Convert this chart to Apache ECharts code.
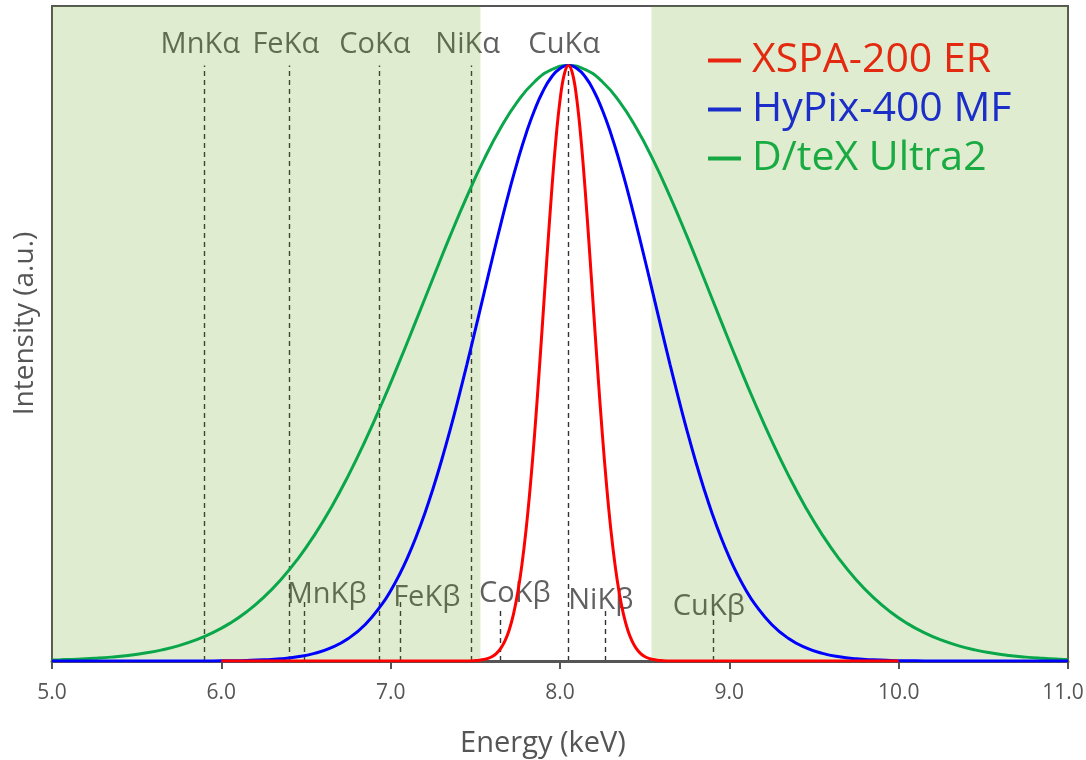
<!DOCTYPE html>
<html>
<head>
<meta charset="utf-8">
<script src="https://cdn.jsdelivr.net/npm/echarts@6/dist/echarts.min.js"></script>
<style>
html,body{margin:0;padding:0;background:#fff;}
#chart{width:1086px;height:760px;}
</style>
</head>
<body>
<div id="chart"></div>
<script>
// ---- data ----
const dtexEnergy = [5.0, 5.05, 5.15, 5.25, 5.35, 5.45, 5.55, 5.65, 5.75, 5.85, 5.95, 6.05, 6.15, 6.25, 6.35, 6.45, 6.55, 6.65, 6.75, 6.85, 6.95, 7.05, 7.15, 7.25, 7.35, 7.45, 7.55, 7.65, 7.75, 7.85, 7.95, 8.05, 8.15, 8.25, 8.35, 8.45, 8.55, 8.65, 8.75, 8.85, 8.95, 9.05, 9.15, 9.25, 9.35, 9.45, 9.55, 9.65, 9.75, 9.85, 9.95, 10.05, 10.15, 10.25, 10.35, 10.45, 10.55, 10.65, 10.75, 10.85, 10.95, 11.0];
const dtexIntensity = [0.0016, 0.0020, 0.0030, 0.0045, 0.0065, 0.0094, 0.0134, 0.0187, 0.0259, 0.0354, 0.0476, 0.0632, 0.0827, 0.1068, 0.1360, 0.1708, 0.2115, 0.2584, 0.3114, 0.3700, 0.4337, 0.5014, 0.5716, 0.6428, 0.7130, 0.7799, 0.8415, 0.8954, 0.9398, 0.9728, 0.9931, 1.0, 0.9931, 0.9728, 0.9398, 0.8954, 0.8415, 0.7799, 0.7130, 0.6428, 0.5716, 0.5014, 0.4337, 0.3700, 0.3114, 0.2584, 0.2115, 0.1708, 0.1360, 0.1068, 0.0827, 0.0632, 0.0476, 0.0354, 0.0259, 0.0187, 0.0134, 0.0094, 0.0065, 0.0045, 0.0030, 0.0025];
const hypixEnergy = [5.0, 5.05, 5.15, 5.25, 5.35, 5.45, 5.55, 5.65, 5.75, 5.85, 5.95, 6.05, 6.15, 6.25, 6.35, 6.45, 6.55, 6.65, 6.75, 6.85, 6.95,
  7.0, 7.05, 7.1, 7.15, 7.2, 7.25, 7.3, 7.35, 7.4, 7.45, 7.5, 7.55, 7.6, 7.65, 7.7, 7.75, 7.8, 7.85, 7.9, 7.95, 8.0, 8.05,
  8.1, 8.15, 8.2, 8.25, 8.3, 8.35, 8.4, 8.45, 8.5, 8.55, 8.6, 8.65, 8.7, 8.75, 8.8, 8.85, 8.9, 8.95, 9.0, 9.05, 9.1,
  9.15, 9.25, 9.35, 9.45, 9.55, 9.65, 9.75, 9.85, 9.95, 10.05, 10.15, 10.25, 10.35, 10.45, 10.55, 10.65, 10.75, 10.85, 10.95, 11.0];
const hypixIntensity = [0, 0, 0, 0, 0, 0, 0, 0, 0, 0.0001, 0.0002, 0.0004, 0.0009, 0.0019, 0.0037, 0.0070, 0.0128, 0.0224, 0.0378, 0.0614, 0.0959,
  0.1181, 0.1441, 0.1740, 0.2082, 0.2466, 0.2894, 0.3363, 0.3870, 0.4411, 0.4978, 0.5565, 0.6161, 0.6755, 0.7334, 0.7887, 0.8400, 0.8860, 0.9254, 0.9573, 0.9808, 0.9952, 1.0,
  0.9952, 0.9808, 0.9573, 0.9254, 0.8860, 0.8400, 0.7887, 0.7334, 0.6755, 0.6161, 0.5565, 0.4978, 0.4411, 0.3870, 0.3363, 0.2894, 0.2466, 0.2082, 0.1740, 0.1441, 0.1181,
  0.0959, 0.0614, 0.0378, 0.0224, 0.0128, 0.0070, 0.0037, 0.0019, 0.0009, 0.0004, 0.0002, 0.0001, 0, 0, 0, 0, 0, 0, 0, 0];
const xspaEnergy = [6.0, 7.45, 7.5, 7.525, 7.55, 7.575, 7.6, 7.625, 7.65, 7.675, 7.7, 7.725, 7.75, 7.775, 7.8, 7.825, 7.85, 7.875, 7.9, 7.925, 7.95, 7.975, 8.0, 8.025, 8.05, 8.075, 8.1, 8.125, 8.15, 8.175, 8.2, 8.225, 8.25, 8.275, 8.3, 8.325, 8.35, 8.375, 8.4, 8.425, 8.45, 8.475, 8.5, 8.525, 8.55, 8.575, 8.6, 8.65, 10.0];
const xspaIntensity = [0, 0.0002, 0.0007, 0.0013, 0.0024, 0.0043, 0.0076, 0.0128, 0.0211, 0.0337, 0.0521, 0.0783, 0.1142, 0.1615, 0.2216, 0.2950, 0.3812, 0.4779, 0.5813, 0.6861, 0.7857, 0.8732, 0.9415, 0.9850, 1.0, 0.9850, 0.9415, 0.8732, 0.7857, 0.6861, 0.5813, 0.4779, 0.3812, 0.2950, 0.2216, 0.1615, 0.1142, 0.0783, 0.0521, 0.0337, 0.0211, 0.0128, 0.0076, 0.0043, 0.0024, 0.0013, 0.0007, 0.0002, 0];
const seriesNames = ['XSPA-200 ER', 'HyPix-400 MF', 'D/teX Ultra2'];
const xTicks = [5, 6, 7, 8, 9, 10, 11];
const kAlphaNames = ['MnKα', 'FeKα', 'CoKα', 'NiKα', 'CuKα'];
const kAlphaEnergy = [5.899, 6.404, 6.930, 7.478, 8.048];
const kAlphaTop = [1.0, 1.0, 1.0, 1.0, 1.0];
const kBetaNames = ['MnKβ', 'FeKβ', 'CoKβ', 'NiKβ', 'CuKβ'];
const kBetaEnergy = [6.490, 7.058, 7.649, 8.265, 8.905];
const kBetaTop = [0.10, 0.10, 0.086, 0.086, 0.086];
const shadedBands = [[5.0, 7.53], [8.54, 11.0]];

// ---- layout constants (label anchors, data space) ----
const kAlphaLabelY = 1.035;
const kBetaLabelAnchor = [[6.622, 0.111], [7.213, 0.106], [7.733, 0.113], [8.241, 0.101], [8.879, 0.091]];

const FONT = '"Open Sans", "Noto Sans", sans-serif';
const zip = (xs, ys) => xs.map((x, i) => [x, ys[i]]);

const guideLines = [];
kAlphaEnergy.forEach((e, i) => guideLines.push([{coord: [e, 0]}, {coord: [e, kAlphaTop[i]]}]));
kBetaEnergy.forEach((e, i) => guideLines.push([{coord: [e, 0]}, {coord: [e, kBetaTop[i]]}]));

const labelData = [];
kAlphaNames.forEach((n, i) => labelData.push({name: n, value: [kAlphaEnergy[i], kAlphaLabelY], label: {offset: [-4, 0]}}));
kBetaNames.forEach((n, i) => labelData.push({name: n, value: kBetaLabelAnchor[i]}));

const xMax = xTicks[xTicks.length - 1];

const chart = echarts.init(document.getElementById('chart'), null, {renderer: 'canvas'});
chart.setOption({
  animation: false,
  backgroundColor: '#ffffff',
  textStyle: {fontFamily: FONT},
  grid: {left: 52, right: 18, top: 6, bottom: 99, outerBoundsMode: 'none', containLabel: false,
    show: true, borderColor: '#555', borderWidth: 2, backgroundColor: 'transparent'},
  legend: {
    orient: 'vertical', left: 703, top: 35, icon: 'rect', itemWidth: 33, itemHeight: 4, itemGap: 8,
    selectedMode: false,
    textStyle: {fontSize: 41, lineHeight: 40, fontFamily: FONT, padding: [0, 0, 0, 6]},
    data: [
      {name: seriesNames[0], itemStyle: {color: '#e8230f'}, textStyle: {color: '#e3290f'}},
      {name: seriesNames[1], itemStyle: {color: '#1a2ecc'}, textStyle: {color: '#1c2ec8'}},
      {name: seriesNames[2], itemStyle: {color: '#17a843'}, textStyle: {color: '#19aa42'}}
    ]
  },
  xAxis: {
    type: 'value', min: 5, max: 11, interval: 1,
    name: 'Energy (keV)', nameLocation: 'middle', nameGap: 68,
    nameTextStyle: {fontSize: 29, color: '#555', fontFamily: FONT, padding: [0, 34, 0, 0]},
    axisLine: {show: true, lineStyle: {color: '#555', width: 3}},
    axisTick: {show: true, inside: false, length: 8, lineStyle: {color: '#555', width: 2}},
    axisLabel: {fontSize: 21, color: '#555', margin: 22, fontFamily: FONT,
      formatter: v => !xTicks.includes(v) ? '' : (v === xMax ? '{r|' + v.toFixed(1) + '}' : v.toFixed(1)),
      rich: {r: {fontSize: 21, color: '#555', fontFamily: FONT, padding: [0, 10, 0, 0]}}},
    splitLine: {show: false}
  },
  yAxis: {
    type: 'value', min: 0, max: 1.1,
    name: 'Intensity (a.u.)', nameLocation: 'middle', nameGap: 13, nameRotate: 90,
    nameTextStyle: {fontSize: 28, color: '#555', fontFamily: FONT, padding: [0, 0, 0, 20]},
    axisLine: {show: false}, axisTick: {show: false}, axisLabel: {show: false}, splitLine: {show: false}
  },
  series: [
    {
      name: 'labels', type: 'scatter', z: 0, silent: true, symbolSize: 0,
      data: labelData,
      label: {show: true, position: 'inside', formatter: '{b}', fontSize: 29, color: '#383838', fontFamily: FONT},
      markLine: {
        z: 0, silent: true, symbol: ['none', 'none'], label: {show: false},
        lineStyle: {color: '#333', type: [5, 4], width: 1.4},
        emphasis: {disabled: true},
        data: guideLines
      }
    },
    {
      name: seriesNames[2], type: 'line', z: 3, showSymbol: false, symbol: 'none',
      smooth: 0.5,
      lineStyle: {color: '#0aa64a', width: 3}, itemStyle: {color: '#0aa64a'},
      data: zip(dtexEnergy, dtexIntensity),
      markArea: {
        z: 1, silent: true,
        itemStyle: {color: 'rgba(95,160,20,0.2)'},
        data: shadedBands.map(b => [{xAxis: b[0]}, {xAxis: b[1]}])
      }
    },
    {
      name: seriesNames[1], type: 'line', z: 4, showSymbol: false, symbol: 'none',
      smooth: 0.5,
      lineStyle: {color: '#0000ff', width: 3}, itemStyle: {color: '#0000ff'},
      data: zip(hypixEnergy, hypixIntensity)
    },
    {
      name: seriesNames[0], type: 'line', z: 5, showSymbol: false, symbol: 'none',
      smooth: 0.4,
      lineStyle: {color: '#ff0000', width: 3}, itemStyle: {color: '#ff0000'},
      data: zip(xspaEnergy, xspaIntensity)
    }
  ]
});
</script>
</body>
</html>
